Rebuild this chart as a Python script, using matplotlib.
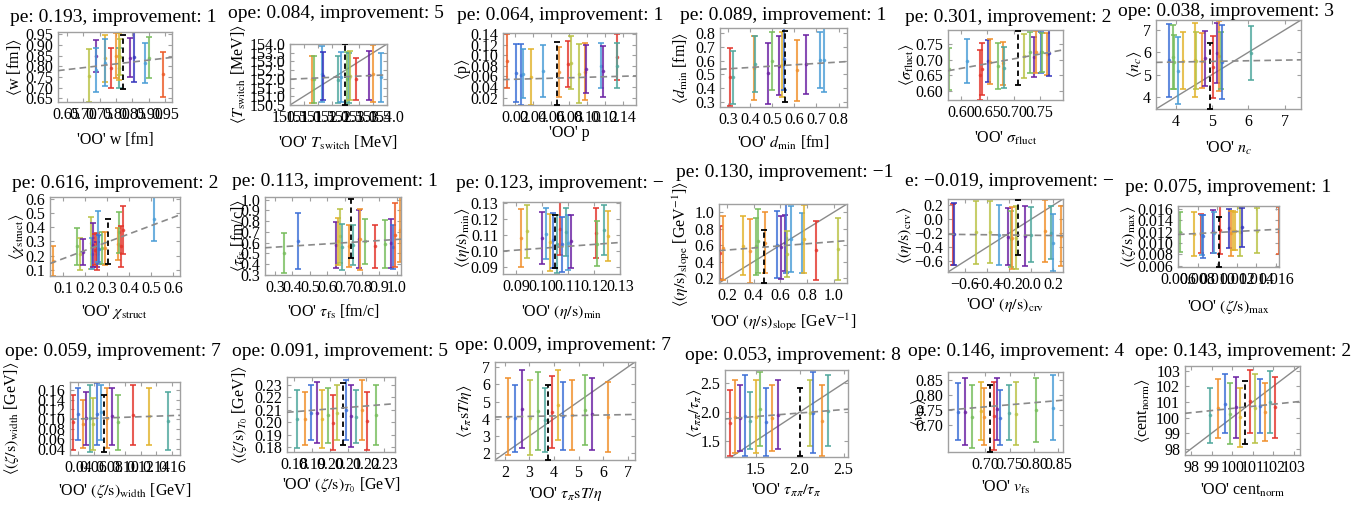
import matplotlib
matplotlib.use("Agg")
import matplotlib.pyplot as plt
import numpy as np

plt.rcParams['font.family'] = ['Liberation Serif', 'DejaVu Serif']
plt.rcParams['mathtext.fontset'] = 'stix'

W, H = 1365, 505

PALETTE = {
    'r': '#e3342b',   # red
    'R': '#ec5a26',   # orange red
    'o': '#f0902c',   # orange
    'g': '#e2b32c',   # gold
    'y': '#b9c245',   # olive / yellow green
    'G': '#77bd5c',   # green
    't': '#4ea79c',   # teal
    'l': '#4a9dd6',   # light blue
    'b': '#3c6fd6',   # blue
    'd': '#3434bd',   # dark blue
    'p': '#6b21a3',   # purple
}

# ---------------- data: bars are (x, low, high); one colour key per bar ----------------
w_bars = [(0.719, 0.634, 0.880), (0.739, 0.775, 0.923), (0.739, 0.681, 0.884), (0.767, 0.728, 0.947),
          (0.767, 0.708, 0.927), (0.785, 0.697, 0.884), (0.800, 0.744, 0.955), (0.808, 0.697, 0.884),
          (0.808, 0.736, 0.958), (0.812, 0.760, 0.930), (0.842, 0.752, 0.931), (0.855, 0.728, 0.962),
          (0.888, 0.720, 0.908), (0.901, 0.744, 0.939), (0.943, 0.655, 0.869)]
w_cols = "y p l g l r o t g y p d l G R".split()
w_ref = (0.820, 0.693, 0.947)
w_trend = (0.780, 0.842)

tsw_bars = [(151.30, 150.60, 153.33), (151.375, 150.60, 153.33), (151.67, 150.69, 153.87),
            (151.70, 150.79, 153.52), (152.24, 150.60, 153.29), (152.33, 150.69, 153.52),
            (152.57, 150.50, 153.52), (152.62, 150.60, 153.50), (152.66, 150.79, 153.58),
            (152.87, 150.79, 153.19), (153.34, 150.81, 153.58), (153.50, 150.69, 153.92),
            (153.80, 150.69, 153.48)]
tsw_cols = "o G l d t l G t y r p o l".split()
tsw_ref = (152.50, 150.50, 154.0)
tsw_trend = (151.98, 152.23)

p_bars = [(0.011, 0.039, 0.140), (0.0208, 0.0123, 0.121), (0.0259, 0.006, 0.121), (0.0286, 0.0187, 0.1116),
          (0.0377, 0.006, 0.1122), (0.0507, 0.0206, 0.1198), (0.0683, 0.0218, 0.1154), (0.079, 0.0395, 0.1261),
          (0.0817, 0.0357, 0.1368), (0.0907, 0.0092, 0.121), (0.0978, 0.0155, 0.1229), (0.0994, 0.0294, 0.1198),
          (0.1163, 0.0376, 0.1229), (0.1183, 0.0218, 0.1179), (0.134, 0.0534, 0.1406), (0.134, 0.0376, 0.1229)]
p_cols = "R b b l g l o r y y o p l p r t".split()
p_ref = (0.066, 0.006, 0.1242)
p_trend = (0.054, 0.061)

dmin_bars = [(0.3105, 0.268, 0.695), (0.3256, 0.288, 0.671), (0.419, 0.312, 0.780), (0.4235, 0.373, 0.776),
             (0.4837, 0.288, 0.727), (0.4988, 0.385, 0.805), (0.529, 0.349, 0.776), (0.544, 0.337, 0.805),
             (0.5515, 0.385, 0.837), (0.6117, 0.307, 0.751), (0.6539, 0.356, 0.788), (0.714, 0.400, 0.805),
             (0.732, 0.370, 0.837)]
dmin_cols = "r t o t p G p g b o p l l".split()
dmin_ref = (0.5605, 0.300, 0.817)
dmin_trend = (0.537, 0.593)

sig_bars = [(0.5764, 0.602, 0.736), (0.6102, 0.626, 0.765), (0.6357, 0.570, 0.731), (0.6396, 0.586, 0.752),
            (0.651, 0.629, 0.763), (0.6542, 0.621, 0.765), (0.670, 0.604, 0.752), (0.6798, 0.618, 0.7575),
            (0.6817, 0.6075, 0.741), (0.720, 0.640, 0.782), (0.7308, 0.658, 0.790), (0.739, 0.645, 0.771),
            (0.7436, 0.656, 0.793), (0.7518, 0.658, 0.790), (0.7544, 0.661, 0.786), (0.7646, 0.650, 0.786),
            (0.7672, 0.647, 0.795)]
sig_cols = "G l r r d o G o t y G p o b G o d".split()
sig_ref = (0.7085, 0.618, 0.793)
sig_trend = (0.664, 0.731)

nc_bars = [(3.814, 4.0, 7.267), (3.907, 4.327, 7.223), (3.953, 4.357, 6.777), (4.047, 3.659, 6.673),
           (4.186, 4.327, 6.926), (4.513, 4.0, 7.297), (4.559, 4.327, 6.926), (4.727, 4.401, 6.851),
           (4.792, 4.475, 6.970), (5.025, 3.956, 6.733), (5.146, 4.624, 7.297), (5.193, 4.253, 7.416),
           (5.23, 4.327, 6.926), (5.258, 3.881, 7.223), (6.069, 4.772, 7.178)]
nc_cols = "b G G l g g y o p r p o G b t".split()
nc_ref = (4.932, 3.466, 6.436)
nc_trend = (5.545, 5.66)

chi_bars = [(0.0545, 0.055, 0.267), (0.1606, 0.131, 0.398), (0.1758, 0.095, 0.326), (0.191, 0.131, 0.317),
            (0.2242, 0.107, 0.476), (0.2288, 0.102, 0.326), (0.2364, 0.119, 0.429), (0.2439, 0.131, 0.350),
            (0.2515, 0.119, 0.298), (0.2545, 0.095, 0.357), (0.256, 0.155, 0.517), (0.2636, 0.143, 0.345),
            (0.2742, 0.143, 0.369), (0.2894, 0.131, 0.369), (0.350, 0.167, 0.393), (0.3545, 0.221, 0.505),
            (0.3606, 0.119, 0.410), (0.3697, 0.214, 0.548), (0.512, 0.302, 0.614)]
chi_cols = "o G y p y l p r p r l b G o o G r r l".split()
chi_ref = (0.3015, 0.143, 0.460)
chi_trend = (0.143, 0.488)

tfs_bars = [(0.3518, 0.315, 0.692), (0.4344, 0.355, 0.880), (0.6514, 0.362, 0.793), (0.661, 0.393, 0.834),
            (0.6744, 0.408, 0.917), (0.684, 0.346, 0.778), (0.7224, 0.377, 0.769), (0.7474, 0.393, 0.763),
            (0.780, 0.362, 0.901), (0.7896, 0.346, 0.917), (0.8146, 0.399, 0.824), (0.876, 0.368, 0.769),
            (0.9336, 0.368, 0.809), (0.9682, 0.362, 0.824), (0.9778, 0.355, 0.763), (0.9874, 0.377, 0.972),
            (1.020, 0.417, 1.025)]
tfs_cols = "G b p g y t o t p o G r G p b R o".split()
tfs_ref = (0.7358, 0.460, 1.009)
tfs_trend = (0.553, 0.633)

etamin_bars = [(0.0917, 0.090, 0.1263), (0.0941, 0.0952, 0.1288), (0.0997, 0.0914, 0.1242),
               (0.1016, 0.0945, 0.1267), (0.1029, 0.0873, 0.1232), (0.1042, 0.089, 0.1238),
               (0.1057, 0.0858, 0.1225), (0.107, 0.0972, 0.1304), (0.1077, 0.0869, 0.1211),
               (0.1091, 0.0968, 0.1269), (0.1100, 0.0879, 0.1221), (0.1109, 0.089, 0.1225),
               (0.1206, 0.0952, 0.1269), (0.1213, 0.0904, 0.1184), (0.1239, 0.0972, 0.1288),
               (0.1253, 0.0935, 0.1248)]
etamin_cols = "o y p l g b t r b t l p r G t g".split()
etamin_ref = (0.1048, 0.089, 0.1225)
etamin_trend = (0.0997, 0.1051)

slope_bars = [(0.145, 0.181, 0.829), (0.170, 0.181, 0.950), (0.321, 0.241, 0.950), (0.376, 0.140, 0.922),
              (0.416, 0.241, 0.930), (0.434, 0.262, 1.039), (0.484, 0.262, 0.999), (0.577, 0.201, 1.011),
              (0.602, 0.193, 0.950), (0.635, 0.282, 0.970), (0.643, 0.262, 1.100), (0.648, 0.209, 0.768),
              (0.678, 0.274, 1.072), (0.761, 0.262, 0.991), (0.778, 0.262, 1.084), (0.866, 0.181, 0.897),
              (1.030, 0.181, 0.930)]
slope_cols = "r o g o G G o b p p b y l l g r y".split()
slope_ref = (0.477, 0.140, 0.788)
slope_trend = (0.533, 0.655)

crv_bars = [(-0.705, -0.645, 0.218), (-0.696, -0.645, 0.232), (-0.500, -0.630, 0.256), (-0.373, -0.616, 0.256),
            (-0.292, -0.654, 0.199), (-0.207, -0.654, 0.161), (-0.183, -0.678, 0.113), (-0.171, -0.702, 0.170),
            (-0.132, -0.702, 0.185), (-0.051, -0.664, 0.185), (-0.003, -0.606, 0.170), (0.130, -0.606, 0.280),
            (0.178, -0.568, 0.185), (0.199, -0.740, 0.074), (0.274, -0.664, 0.194)]
crv_cols = "r d y y l p G o y p t o t l o".split()
crv_ref = (-0.117, -0.510, 0.280)
crv_trend = (-0.213, -0.232)

zmax_bars = [(0.00617, 0.00837, 0.01542), (0.0076, 0.00779, 0.01542), (0.00838, 0.0082, 0.01513),
             (0.00845, 0.00791, 0.01484), (0.00855, 0.00745, 0.01496), (0.00954, 0.0082, 0.01588),
             (0.00971, 0.0082, 0.01542), (0.01025, 0.00802, 0.0165), (0.01124, 0.00918, 0.0160),
             (0.01141, 0.00779, 0.01571), (0.01161, 0.00878, 0.01554), (0.01185, 0.00878, 0.01542),
             (0.01236, 0.00779, 0.01612), (0.01253, 0.00935, 0.01612), (0.01406, 0.0082, 0.01612),
             (0.01627, 0.00802, 0.01629)]
zmax_cols = "G g r l b p l r d o g g y d y R".split()
zmax_ref = (0.01015, 0.00588, 0.01456)
zmax_trend = (0.0115, 0.01242)

zwid_bars = [(0.0338, 0.0376, 0.1498), (0.0400, 0.058, 0.164), (0.0466, 0.0416, 0.1396), (0.0504, 0.0478, 0.156),
             (0.0555, 0.0335, 0.170), (0.0593, 0.0376, 0.1437), (0.0644, 0.0478, 0.174), (0.0695, 0.058, 0.170),
             (0.0770, 0.0416, 0.164), (0.0835, 0.0478, 0.164), (0.0910, 0.0376, 0.1498), (0.1100, 0.0478, 0.170),
             (0.1300, 0.0478, 0.164), (0.1550, 0.0376, 0.156)]
zwid_cols = "r b o p t y b l o p G r g t".split()
zwid_ref = (0.0735, 0.0335, 0.1498)
zwid_trend = (0.100, 0.108)

zt0_bars = [(0.1816, 0.1792, 0.226), (0.186, 0.1816, 0.2244), (0.1893, 0.1857, 0.230), (0.1927, 0.1832, 0.2324),
            (0.1955, 0.1792, 0.226), (0.1988, 0.1832, 0.228), (0.2016, 0.1776, 0.2219), (0.2038, 0.1857, 0.230),
            (0.2088, 0.1857, 0.234), (0.2116, 0.180, 0.230), (0.2144, 0.1832, 0.226), (0.2177, 0.1857, 0.234),
            (0.2205, 0.1776, 0.2244), (0.2255, 0.1816, 0.230)]
zt0_cols = "t o b p g G r y b p t o r G".split()
zt0_ref = (0.2071, 0.1816, 0.2316)
zt0_trend = (0.208, 0.215)

tpi_bars = [(2.13, 1.89, 6.37), (2.41, 2.07, 5.96), (2.70, 2.30, 6.83), (3.02, 1.89, 6.25), (3.35, 2.18, 6.72),
            (3.64, 2.07, 5.79), (3.92, 2.30, 6.49), (4.16, 2.76, 6.83), (4.37, 2.18, 6.14), (4.73, 2.18, 6.25),
            (5.26, 2.47, 6.54), (5.55, 2.18, 6.37), (6.20, 2.07, 6.14)]
tpi_cols = "o b p y G t r g b o G p o".split()
tpi_ref = (3.75, 1.60, 5.96)
tpi_trend = (4.10, 4.25)

tpp_bars = [(1.207, 1.237, 2.377), (1.264, 1.290, 2.553), (1.321, 1.325, 2.465), (1.378, 1.237, 2.640),
            (1.435, 1.360, 2.342), (1.503, 1.290, 2.553), (1.548, 1.412, 2.693), (1.617, 1.237, 2.412),
            (1.685, 1.325, 2.465), (1.753, 1.360, 2.553), (2.117, 1.412, 2.553), (2.151, 1.290, 2.693),
            (2.254, 1.237, 2.465), (2.322, 1.412, 2.640)]
tpp_cols = "r o p b t g G b o p y b o t".split()
tpp_ref = (2.00, 1.237, 2.412)
tpp_trend = (1.88, 2.05)

vfs_bars = [(0.644, 0.650, 0.840), (0.658, 0.633, 0.857), (0.673, 0.623, 0.833), (0.690, 0.650, 0.843),
            (0.698, 0.633, 0.823), (0.717, 0.617, 0.843), (0.723, 0.650, 0.857), (0.731, 0.633, 0.817),
            (0.748, 0.650, 0.833), (0.7625, 0.633, 0.843), (0.804, 0.643, 0.857), (0.840, 0.650, 0.867)]
vfs_cols = "b p G g o r p b t y G l".split()
vfs_ref = (0.710, 0.610, 0.833)
vfs_trend = (0.750, 0.783)

cent_bars = [(98.92, 98.40, 101.90), (99.31, 98.69, 102.48), (99.65, 98.99, 102.78), (99.89, 98.29, 102.19),
             (100.18, 98.69, 102.60), (100.38, 98.11, 101.90), (100.87, 98.99, 103.07), (101.11, 98.40, 102.78),
             (101.35, 98.99, 102.48), (101.60, 98.52, 102.19), (101.84, 98.99, 102.95), (102.08, 98.69, 102.60)]
cent_cols = "t o b G p g r y b o t r".split()
cent_ref = (100.62, 98.29, 102.31)
cent_trend = (100.27, 101.03)

# ---------------- panel text, ranges, ticks ----------------
PANELS = [
    dict(title="pe: 0.193, improvement: 1", xl="'OO' w [fm]", yl=r"$\langle$w [fm]$\rangle$",
         bars=w_bars, cols=w_cols, ref=w_ref, trend=w_trend, xlim=(0.624, 0.97), ylim=(0.633, 0.961),
         xt=np.arange(0.65, 0.96, 0.05), yt=np.arange(0.65, 0.96, 0.05), fmt="%.2f", diag=False),
    dict(title="ope: 0.084, improvement: 5", xl=r"'OO' $T_{\mathrm{switch}}$ [MeV]",
         yl=r"$\langle T_{\mathrm{switch}}$ [MeV]$\rangle$",
         bars=tsw_bars, cols=tsw_cols, ref=tsw_ref, trend=tsw_trend, xlim=(150.5, 154.0), ylim=(150.5, 154.0),
         xt=np.arange(150.5, 154.01, 0.5), yt=np.arange(150.5, 154.01, 0.5), fmt="%.1f", diag=True),
    dict(title="pe: 0.064, improvement: 1", xl="'OO' p", yl=r"$\langle$p$\rangle$",
         bars=p_bars, cols=p_cols, ref=p_ref, trend=p_trend, xlim=(0.006, 0.155), ylim=(0.006, 0.142),
         xt=np.arange(0.02, 0.141, 0.02), yt=np.arange(0.02, 0.141, 0.02), fmt="%.2f", diag=False),
    dict(title="pe: 0.089, improvement: 1", xl=r"'OO' $d_{\mathrm{min}}$ [fm]",
         yl=r"$\langle d_{\mathrm{min}}$ [fm]$\rangle$",
         bars=dmin_bars, cols=dmin_cols, ref=dmin_ref, trend=dmin_trend, xlim=(0.265, 0.838), ylim=(0.263, 0.837),
         xt=np.arange(0.3, 0.81, 0.1), yt=np.arange(0.3, 0.81, 0.1), fmt="%.1f", diag=False),
    dict(title="pe: 0.301, improvement: 2", xl=r"'OO' $\sigma_{\mathrm{fluct}}$",
         yl=r"$\langle\sigma_{\mathrm{fluct}}\rangle$",
         bars=sig_bars, cols=sig_cols, ref=sig_ref, trend=sig_trend, xlim=(0.5745, 0.7946), ylim=(0.570, 0.795),
         xt=np.arange(0.60, 0.76, 0.05), yt=np.arange(0.60, 0.76, 0.05), fmt="%.2f", diag=False),
    dict(title="ope: 0.038, improvement: 3", xl=r"'OO' $n_c$", yl=r"$\langle n_c\rangle$",
         bars=nc_bars, cols=nc_cols, ref=nc_ref, trend=nc_trend, xlim=(3.45, 7.45), ylim=(3.45, 7.45),
         xt=[4, 5, 6, 7], yt=[4, 5, 6, 7], fmt="%d", diag=True),
    dict(title="pe: 0.616, improvement: 2", xl=r"'OO' $\chi_{\mathrm{struct}}$",
         yl=r"$\langle\chi_{\mathrm{struct}}\rangle$",
         bars=chi_bars, cols=chi_cols, ref=chi_ref, trend=chi_trend, xlim=(0.039, 0.630), ylim=(0.055, 0.614),
         xt=np.arange(0.1, 0.61, 0.1), yt=np.arange(0.1, 0.61, 0.1), fmt="%.1f", diag=False),
    dict(title="pe: 0.113, improvement: 1", xl=r"'OO' $\tau_{\mathrm{fs}}$ [fm/c]",
         yl=r"$\langle\tau_{\mathrm{fs}}$ [fm/c]$\rangle$",
         bars=tfs_bars, cols=tfs_cols, ref=tfs_ref, trend=tfs_trend, xlim=(0.242, 1.024), ylim=(0.30, 1.025),
         xt=np.arange(0.3, 1.01, 0.1), yt=np.arange(0.3, 1.01, 0.1), fmt="%.1f", diag=False),
    dict(title="pe: 0.123, improvement: \u2212", xl=r"'OO' $(\eta/\mathrm{s})_{\mathrm{min}}$",
         yl=r"$\langle(\eta/\mathrm{s})_{\mathrm{min}}\rangle$",
         bars=etamin_bars, cols=etamin_cols, ref=etamin_ref, trend=etamin_trend, xlim=(0.0848, 0.130),
         ylim=(0.0854, 0.1304), xt=np.arange(0.09, 0.131, 0.01), yt=np.arange(0.09, 0.131, 0.01), fmt="%.2f",
         diag=False),
    dict(title="pe: 0.130, improvement: \u22121",
         xl=r"'OO' $(\eta/\mathrm{s})_{\mathrm{slope}}$ [GeV$^{-1}$]",
         yl=r"$\langle(\eta/\mathrm{s})_{\mathrm{slope}}$ [GeV$^{-1}$]$\rangle$",
         bars=slope_bars, cols=slope_cols, ref=slope_ref, trend=slope_trend, xlim=(0.14, 1.1), ylim=(0.14, 1.1),
         xt=np.arange(0.2, 1.01, 0.2), yt=np.arange(0.2, 1.01, 0.2), fmt="%.1f", diag=True),
    dict(title="e: \u22120.019, improvement: \u2212", xl=r"'OO' $(\eta/\mathrm{s})_{\mathrm{crv}}$",
         yl=r"$\langle(\eta/\mathrm{s})_{\mathrm{crv}}\rangle$",
         bars=crv_bars, cols=crv_cols, ref=crv_ref, trend=crv_trend, xlim=(-0.75, 0.29), ylim=(-0.75, 0.29),
         xt=np.arange(-0.6, 0.21, 0.2), yt=np.arange(-0.6, 0.21, 0.2), fmt="%.1f", diag=True),
    dict(title="pe: 0.075, improvement: 1", xl=r"'OO' $(\zeta/\mathrm{s})_{\mathrm{max}}$",
         yl=r"$\langle(\zeta/\mathrm{s})_{\mathrm{max}}\rangle$",
         bars=zmax_bars, cols=zmax_cols, ref=zmax_ref, trend=zmax_trend, xlim=(0.006, 0.0163), ylim=(0.0058, 0.0165),
         xt=np.arange(0.006, 0.0161, 0.002), yt=np.arange(0.006, 0.0161, 0.002), fmt="%.3f", diag=False),
    dict(title="ope: 0.059, improvement: 7", xl=r"'OO' $(\zeta/\mathrm{s})_{\mathrm{width}}$ [GeV]",
         yl=r"$\langle(\zeta/\mathrm{s})_{\mathrm{width}}$ [GeV]$\rangle$",
         bars=zwid_bars, cols=zwid_cols, ref=zwid_ref, trend=zwid_trend, xlim=(0.03, 0.17), ylim=(0.027, 0.176),
         xt=np.arange(0.04, 0.161, 0.02), yt=np.arange(0.04, 0.161, 0.02), fmt="%.2f", diag=False),
    dict(title="ope: 0.091, improvement: 5", xl=r"'OO' $(\zeta/\mathrm{s})_{T_0}$ [GeV]",
         yl=r"$\langle(\zeta/\mathrm{s})_{T_0}$ [GeV]$\rangle$",
         bars=zt0_bars, cols=zt0_cols, ref=zt0_ref, trend=zt0_trend, xlim=(0.176, 0.236), ylim=(0.176, 0.2365),
         xt=np.arange(0.18, 0.231, 0.01), yt=np.arange(0.18, 0.231, 0.01), fmt="%.2f", diag=False),
    dict(title="ope: 0.009, improvement: 7", xl=r"'OO' $\tau_\pi \mathrm{s}T/\eta$",
         yl=r"$\langle\tau_\pi \mathrm{s}T/\eta\rangle$",
         bars=tpi_bars, cols=tpi_cols, ref=tpi_ref, trend=tpi_trend, xlim=(1.6, 7.3), ylim=(1.6, 7.3),
         xt=[2, 3, 4, 5, 6, 7], yt=[2, 3, 4, 5, 6, 7], fmt="%d", diag=True),
    dict(title="ope: 0.053, improvement: 8", xl=r"'OO' $\tau_{\pi\pi}/\tau_\pi$",
         yl=r"$\langle\tau_{\pi\pi}/\tau_\pi\rangle$",
         bars=tpp_bars, cols=tpp_cols, ref=tpp_ref, trend=tpp_trend, xlim=(1.15, 2.55), ylim=(1.22, 2.73),
         xt=[1.5, 2.0, 2.5], yt=[1.5, 2.0, 2.5], fmt="%.1f", diag=True),
    dict(title="ope: 0.146, improvement: 4", xl=r"'OO' $v_{\mathrm{fs}}$", yl=r"$\langle v_{\mathrm{fs}}\rangle$",
         bars=vfs_bars, cols=vfs_cols, ref=vfs_ref, trend=vfs_trend, xlim=(0.623, 0.86), ylim=(0.61, 0.877),
         xt=np.arange(0.70, 0.851, 0.05), yt=np.arange(0.70, 0.851, 0.05), fmt="%.2f", diag=False),
    dict(title="ope: 0.143, improvement: 2", xl=r"'OO' cent$_{\mathrm{norm}}$",
         yl=r"$\langle$cent$_{\mathrm{norm}}\rangle$",
         bars=cent_bars, cols=cent_cols, ref=cent_ref, trend=cent_trend, xlim=(97.7, 103.3), ylim=(97.6, 103.3),
         xt=[98, 99, 100, 101, 102, 103], yt=[98, 99, 100, 101, 102, 103], fmt="%d", diag=True),
]

# ---------------- layout in pixels: frame (left, top, right, bottom), title, labels ----------------
FRAMES = [(58, 32, 172, 102), (290, 44, 387, 105), (503, 33, 636, 105), (720, 28, 847, 107),
          (948, 30, 1063, 100), (1156, 20, 1301, 109),
          (50, 197, 180, 276), (265, 197, 401, 275), (503, 202, 620, 274), (719, 204, 847, 283),
          (948, 199, 1063, 272), (1178, 206, 1279, 267),
          (70, 382, 180, 455), (287, 377, 395, 452), (495, 362, 635, 460), (725, 370, 848, 457),
          (948, 372, 1063, 452), (1185, 366, 1300, 455)]
TITLE_POS = [(10, 18), (228, 13), (457, 15), (680, 15), (905, 18), (1118, 12),
             (12, 183), (232, 182), (456, 183), (676, 172), (905, 182), (1125, 188),
             (5, 352), (232, 352), (455, 345), (685, 355), (908, 352), (1135, 352)]
YLAB_X = [15, 238, 463, 681, 906, 1134, 17, 238, 462, 681, 905, 1129, 12, 240, 465, 695, 918, 1142]
XLAB_Y = [140, 143, 133, 143, 138, 148, 312, 312, 312, 322, 305, 307, 490, 485, 494, 490, 487, 490]

FRAME_COL = '#a0a0a0'
GUIDE_COL = '#8a8a8a'

fig = plt.figure(figsize=(W / 100, H / 100), dpi=100)

for pan, (l, t, r, b), (tx, ty), ylx, xly in zip(PANELS, FRAMES, TITLE_POS, YLAB_X, XLAB_Y):
    ax = fig.add_axes([l / W, 1 - b / H, (r - l) / W, (b - t) / H])
    x0, x1 = pan['xlim']

    if pan['diag']:
        lo = min(x0, pan['ylim'][0])
        hi = max(x1, pan['ylim'][1])
        ax.plot([lo, hi], [lo, hi], color=GUIDE_COL, lw=1.0, zorder=1)

    for (x, ylo, yhi), c in zip(pan['bars'], pan['cols']):
        col = PALETTE[c]
        ax.vlines(x, ylo, yhi, color=col, lw=1.5, alpha=0.8, zorder=2)
        ax.plot([x, x], [ylo, yhi], ls='none', marker='_', ms=4.5, mew=1.4, color=col, alpha=0.8, zorder=2)
        ax.plot([x], [(ylo + yhi) / 2], ls='none', marker='o', ms=1.6, color=col, alpha=0.7, zorder=2)

    # reference (black dashed) bar
    rx, rlo, rhi = pan['ref']
    ax.plot([rx, rx], [rlo, rhi], color='black', lw=1.3, dashes=(3, 2), zorder=3)
    ax.plot([rx, rx], [rlo, rhi], ls='none', marker='_', ms=4.5, mew=1.3, color='black', zorder=3)

    ax.plot([x0, x1], pan['trend'], color=GUIDE_COL, lw=1.2, dashes=(4, 2.5), zorder=4)

    ax.set_xlim(pan['xlim'])
    ax.set_ylim(pan['ylim'])
    fmt = pan['fmt']
    ax.set_xticks(pan['xt'])
    ax.set_yticks(pan['yt'])
    ax.set_xticklabels([(fmt % v).replace('-', '\u2212') for v in pan['xt']])
    ax.set_yticklabels([(fmt % v).replace('-', '\u2212') for v in pan['yt']])
    ax.tick_params(direction='in', length=3, width=0.8, color=FRAME_COL, labelsize=11.5, pad=3.5,
                   top=True, right=True)
    for s in ax.spines.values():
        s.set_color(FRAME_COL)
        s.set_linewidth(1.0)

    fig.text(tx / W, 1 - ty / H, pan['title'], ha='left', va='center', fontsize=14)
    fig.text((l + r) / 2 / W, 1 - xly / H, pan['xl'], ha='center', va='center', fontsize=11.5)
    fig.text(ylx / W, 1 - (t + b) / 2 / H, pan['yl'], ha='center', va='center', rotation=90, fontsize=11.5)

fig.savefig("out.png", dpi=100)
